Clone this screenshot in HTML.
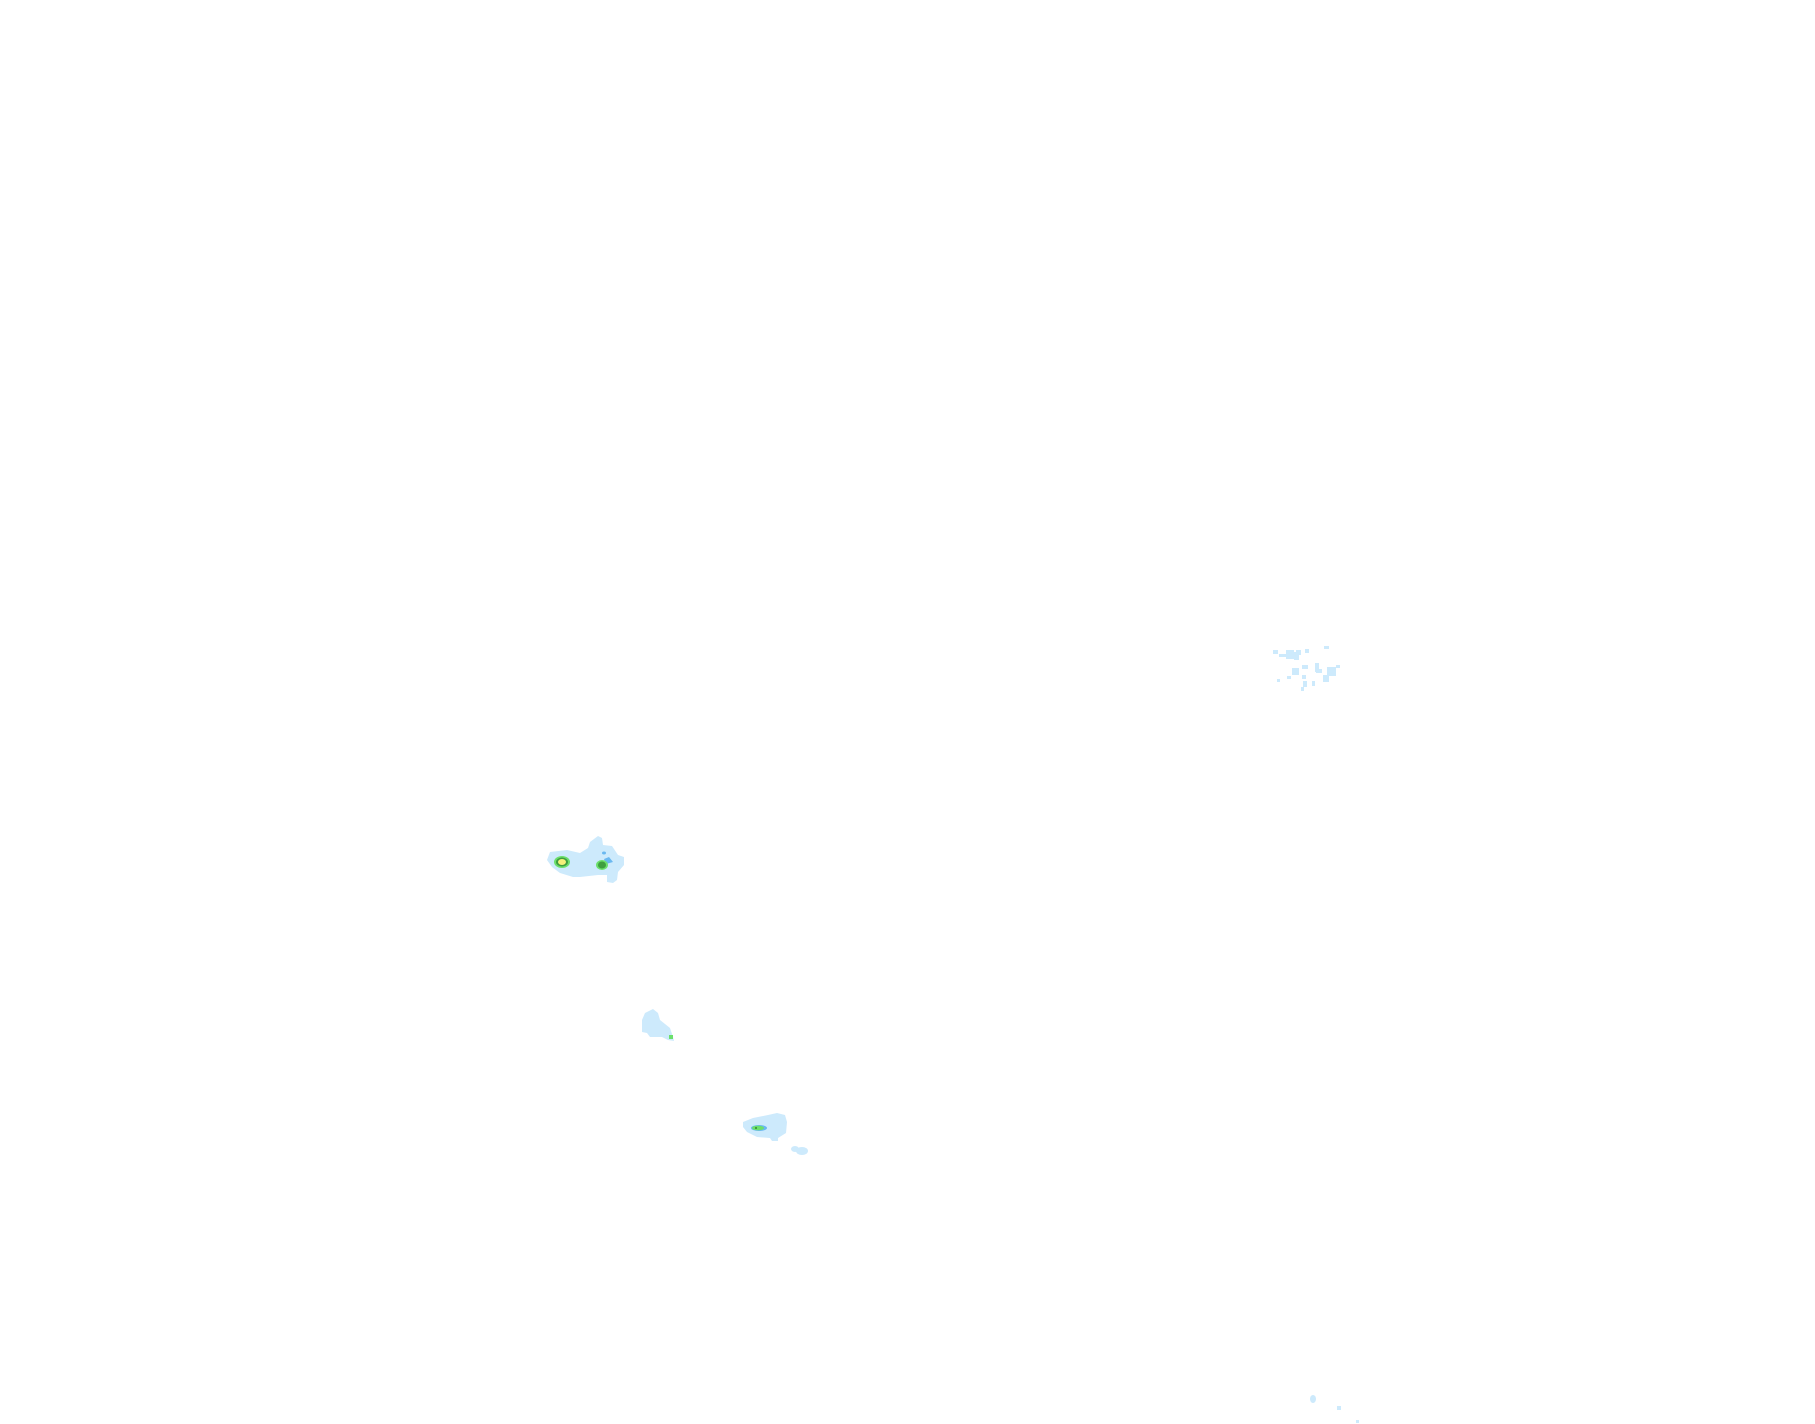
<!DOCTYPE html>
<html><head><style>html,body{margin:0;padding:0;background:#fff;}svg{display:block}</style></head>
<body>
<svg width="1815" height="1424" viewBox="0 0 1815 1424" xmlns="http://www.w3.org/2000/svg">
<g fill="#cdeafc">
<polygon points="590,842 598,836 602,838 603,845 612,846 618,855 624,857 624,865 618,872 617,880 613,883 607,882 607,875 598,875 580,877 573,877 560,873 552,867 547,860 550,852 567,850 580,853 588,848"/>
<polygon points="645,1013 653,1009 658,1013 660,1020 670,1028 673,1037 674,1041 668,1040 662,1037 650,1037 647,1033 642,1032 642,1020"/>
<polygon points="743,1122 753,1118 768,1115 777,1113 785,1115 787,1122 786,1133 778,1138 778,1141 772,1141 770,1138 757,1137 747,1132 743,1127"/>
<ellipse cx="795" cy="1149" rx="4" ry="3"/>
<ellipse cx="802" cy="1151" rx="6" ry="4"/>
<rect x="1273" y="650" width="5" height="4"/>
<rect x="1279" y="654" width="8" height="3"/>
<rect x="1286" y="650" width="8" height="9"/>
<rect x="1294" y="652" width="5" height="8"/>
<rect x="1296" y="650" width="5" height="5"/>
<rect x="1305" y="649" width="4" height="4"/>
<rect x="1324" y="646" width="5" height="3"/>
<rect x="1292" y="668" width="7" height="7"/>
<rect x="1302" y="665" width="6" height="4"/>
<rect x="1315" y="663" width="4" height="9"/>
<rect x="1316" y="669" width="6" height="4"/>
<rect x="1327" y="667" width="9" height="9"/>
<rect x="1323" y="675" width="6" height="7"/>
<rect x="1336" y="665" width="4" height="3"/>
<rect x="1277" y="679" width="3" height="3"/>
<rect x="1287" y="676" width="4" height="3"/>
<rect x="1302" y="675" width="4" height="4"/>
<rect x="1303" y="681" width="4" height="6"/>
<rect x="1301" y="687" width="3" height="4"/>
<rect x="1312" y="681" width="3" height="5"/>
<ellipse cx="1313" cy="1399" rx="3" ry="4"/>
<rect x="1337" y="1406" width="4" height="4"/>
<rect x="1356" y="1420" width="3" height="3"/>
</g>
<g>
<ellipse cx="562" cy="862" rx="8" ry="6" fill="#6ce06c"/>
<ellipse cx="562" cy="862" rx="6" ry="4.5" fill="#3f9e3f"/>
<ellipse cx="562" cy="862" rx="4" ry="3" fill="#f4f07a"/>
<ellipse cx="604" cy="853" rx="2" ry="1.5" fill="#6ab8f0"/>
<polygon points="604,859 609,857 613,862 606,864" fill="#6ab8f0"/>
<ellipse cx="602" cy="865" rx="6" ry="5" fill="#6ce06c"/>
<ellipse cx="602" cy="865" rx="4" ry="3.5" fill="#3f9e3f"/>
<rect x="669" y="1035" width="4" height="4" fill="#6ce06c"/>
<ellipse cx="759" cy="1128" rx="8" ry="3" fill="#6ab8f0"/>
<ellipse cx="758" cy="1128" rx="6" ry="2.3" fill="#6ce06c"/>
<rect x="755" y="1127" width="2" height="2" fill="#3f9e3f"/>
</g>
</svg>
</body></html>
